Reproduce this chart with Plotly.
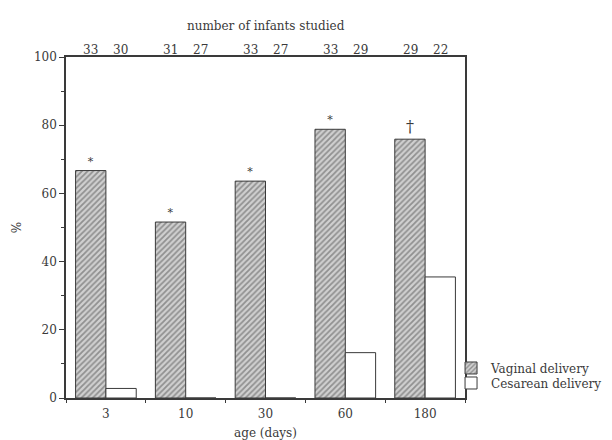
import plotly.graph_objects as go

ages = ["3", "10", "30", "60", "180"]
vaginal = [66.7, 51.6, 63.6, 78.8, 75.9]
cesarean = [2.8, 0, 0, 13.3, 35.5]
n_vaginal = [33, 31, 33, 33, 29]
n_cesarean = [30, 27, 27, 29, 22]
signif = ["*", "*", "*", "*", "†"]

FONT = "DejaVu Serif"
INK = "#3a3a3a"

fig = go.Figure()
fig.add_trace(go.Bar(
    x=ages, y=vaginal, name="Vaginal delivery", legend="legend",
    marker=dict(color="#d0d0d0", line=dict(color=INK, width=1),
                pattern=dict(shape="/", fgcolor="#505050", bgcolor="#d0d0d0", size=4, solidity=0.45)),
    text=signif, textposition="outside",
    textfont=dict(family=FONT, size=[11 if s == "*" else 16 for s in signif], color=INK),
    cliponaxis=False,
))
fig.add_trace(go.Bar(
    x=ages, y=cesarean, name="Cesarean delivery", legend="legend2",
    marker=dict(color="white", line=dict(color=INK, width=1)),
))

annotations = []
for i, a in enumerate(ages):
    annotations.append(dict(x=i, y=1, xref="x", yref="paper", yanchor="bottom",
                            text=str(n_vaginal[i]), showarrow=False, xshift=-15, yshift=-2,
                            font=dict(family=FONT, size=12, color=INK)))
    annotations.append(dict(x=i, y=1, xref="x", yref="paper", yanchor="bottom",
                            text=str(n_cesarean[i]), showarrow=False, xshift=15, yshift=-2,
                            font=dict(family=FONT, size=12, color=INK)))
annotations.append(dict(x=0.5, y=1, xref="paper", yref="paper", yanchor="bottom",
                        text="number of infants studied", showarrow=False, yshift=22,
                        font=dict(family=FONT, size=12, color=INK)))

legend_common = dict(xanchor="left", yanchor="middle", itemwidth=30,
                     font=dict(family=FONT, size=12, color=INK),
                     bgcolor="rgba(0,0,0,0)")

fig.update_layout(
    width=612, height=440,
    margin=dict(l=58, r=155, t=49, b=50),
    paper_bgcolor="white", plot_bgcolor="white",
    barmode="group", bargap=0.24, bargroupgap=0,
    font=dict(family=FONT, size=12, color=INK),
    showlegend=True,
    legend=dict(x=0.965, y=0.088, **legend_common),
    legend2=dict(x=0.965, y=0.044, **legend_common),
    annotations=annotations,
)
fig.update_xaxes(
    type="category", range=[-0.5, len(ages) - 0.5], automargin=False,
    showline=True, linecolor=INK, linewidth=1.5, mirror=True,
    ticks="outside", tickson="boundaries", ticklen=3, tickcolor=INK,
    ticklabelstandoff=4,
    showgrid=False, title=dict(text="age (days)", font=dict(family=FONT, size=12), standoff=8),
    tickfont=dict(family=FONT, size=12),
)
fig.update_yaxes(
    range=[0, 100], automargin=False, showline=True, linecolor=INK, linewidth=1.5, mirror=True,
    ticks="outside", ticklen=5, tickcolor=INK, dtick=20,
    minor=dict(ticks="outside", ticklen=3, dtick=10, tickcolor=INK),
    showgrid=False, zeroline=False,
    title=dict(text="%", font=dict(family=FONT, size=12), standoff=10),
    tickfont=dict(family=FONT, size=12),
)

fig.write_html("out.html")
